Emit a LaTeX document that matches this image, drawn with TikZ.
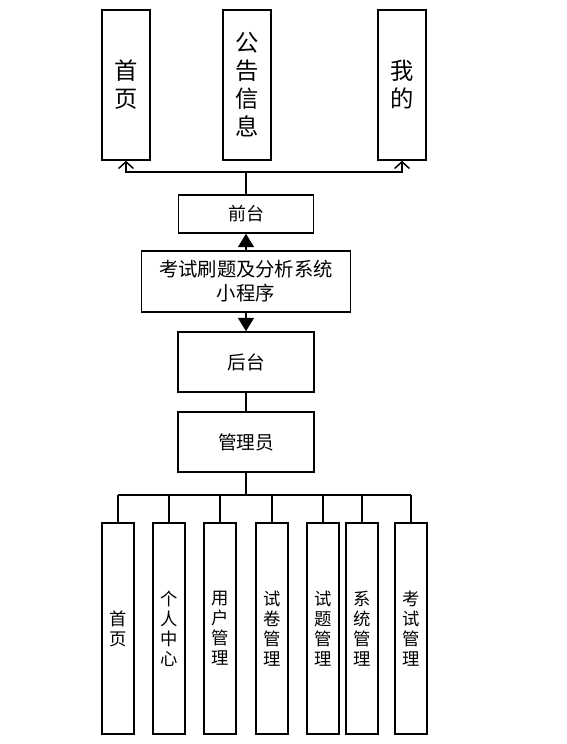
\documentclass[tikz,border=0pt]{standalone}
\usepackage{fontspec}
\setmainfont{Noto Sans CJK SC}
\usetikzlibrary{arrows.meta}

\tikzset{
  box/.style={draw, line width=1.2pt, inner sep=0pt, align=center},
  tall/.style={box, minimum width=36pt, minimum height=112.5pt, font=\fontsize{17.5}{21}\selectfont},
  leaf/.style={box, minimum width=24pt, minimum height=158pt, font=\fontsize{13}{15}\selectfont},
  link/.style={line width=1.1pt},
  openhead/.style={-{Straight Barb[length=5pt,width=11pt]}},
  fullhead/.style={-{Triangle[length=10pt,width=12pt]}},
}

\begin{document}
\begin{tikzpicture}[x=0.75pt,y=-0.75pt]
            \useasboundingbox (0,0) rectangle (567,744);
            \node[tall] (sy) at (126,85) {首\\页};
            \node[tall] (gg) at (247,85) {公\\告\\信\\息};
            \node[tall] (wd) at (402,85) {我\\的};
            \node[box, minimum width=101pt, minimum height=28.5pt, font=\fontsize{13.5}{15}\selectfont] (qt) at (246,214) {前台};
            \node[box, minimum width=157pt, minimum height=46pt, font=\fontsize{14.5}{18}\selectfont] (prog) at (246,281.5) {考试刷题及分析系统\\小程序};
            \node[box, minimum width=102pt, minimum height=45pt, font=\fontsize{14}{15}\selectfont] (ht) at (246,362) {后台};
            \node[box, minimum width=102pt, minimum height=45pt, font=\fontsize{14}{15}\selectfont] (gly) at (246,442) {管理员};
            \coordinate (topfork) at (246,172);
            \coordinate (busmid) at (246,495);
            \foreach \x/\t [count=\i] in {118/{首\\页}, 169/{个\\人\\中\\心}, 220/{用\\户\\管\\理},
                272/{试\\卷\\管\\理}, 323/{试\\题\\管\\理}, 362/{系\\统\\管\\理}, 411/{考\\试\\管\\理}} {
                \node[leaf] (m\i) at (\x,628.5) {\t};
                \draw[link] (m\i.north) -- (m\i.north |- busmid);
            }
            \draw[link] (qt.north) -- (topfork);
            \draw[link, openhead] (topfork) -| (sy.south);
            \draw[link, openhead] (topfork) -| (wd.south);
            \draw[link, fullhead] (prog.north) -- (qt.south);
            \draw[link, fullhead] (prog.south) -- (ht.north);
            \draw[link] (ht.south) -- (gly.north);
            \draw[line width=2pt] (gly.south) -- (busmid);
            \draw[link] (m1.north |- busmid) -- (m7.north |- busmid);
\end{tikzpicture}
\end{document}
